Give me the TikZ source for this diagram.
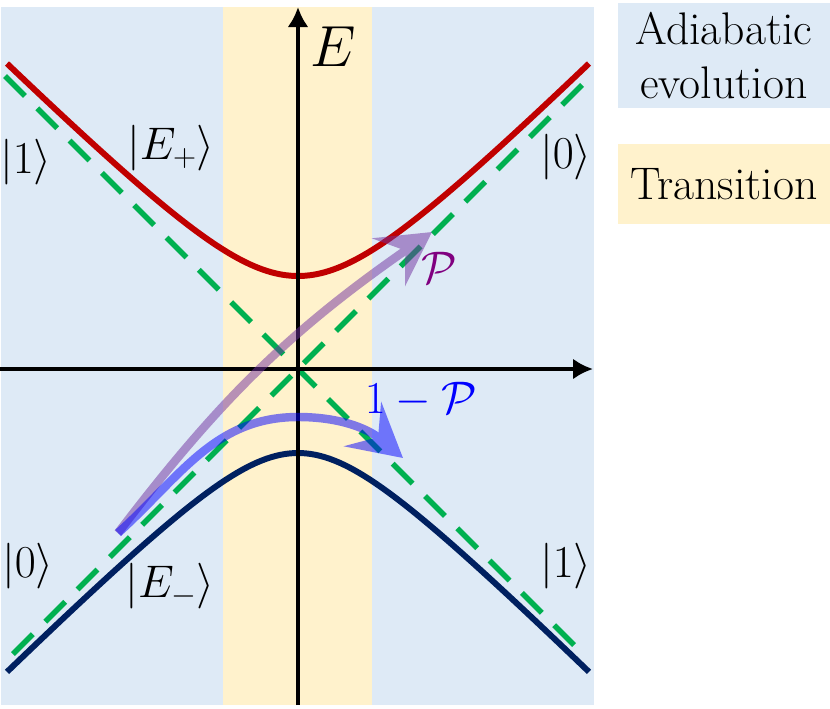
\documentclass[tikz,border=0pt]{standalone}
\usepackage{fix-cm}
\usepackage{amsmath,amssymb}
\usepackage{xcolor}
\usetikzlibrary{calc,arrows.meta}
\definecolor{adiab}{HTML}{DEEAF6}
\definecolor{trans}{HTML}{FFF2CC}
\definecolor{upper}{HTML}{C00000}
\definecolor{lower}{HTML}{002060}
\definecolor{diab}{HTML}{00B050}
\definecolor{jump}{HTML}{7030A0}
\definecolor{plabel}{HTML}{800080}
\newcommand{\Ket}[1]{$|#1\rangle$}
\newcommand{\Level}[3]{%
  \draw[level,color=#1] plot (\x,{#2*sqrt(\x*\x+#3*#3)});
}

\begin{document}
\begin{tikzpicture}[
  every node/.style={font=\fontsize{26}{31}\selectfont},
  level/.style={line width=3.4pt,domain=-5.82:5.82,samples=120},
  diabat/.style={color=diab,line width=3.2pt,dash pattern=on 16pt off 10pt},
  axis/.style={line width=2.8pt,-{Latex[length=0.4cm,width=0.42cm]}},
  flow/.style={line width=4.8pt,-{Stealth[length=1.05cm,width=1.15cm,inset=0.4cm]}},
  legend/.style={fill=#1,minimum width=4.24cm,align=center,inner sep=0pt}]
  \useasboundingbox (-5.96,-6.78) rectangle (10.64,7.38);
  \fill[adiab] (-5.94,-6.72) rectangle (5.92,7.24);
  \fill[trans] (-1.5,-6.72) rectangle (1.48,7.24);
  \coordinate (O) at (0,0);
  \coordinate (start) at (-3.6,-3.28);
  \coordinate (top) at (0,-0.96);
  \coordinate (tipP) at (2.68,2.74);
  \coordinate (tipB) at (2.1,-1.78);
  \draw[diabat] (-5.7,-5.7) -- (O) -- (5.84,5.84);
  \draw[diabat] (-5.86,5.86) -- (O) -- (5.64,-5.64);
  \Level{upper}{1}{1.86}
  \Level{lower}{-1}{1.68}
  \draw[axis] (-5.96,0) -- (5.9,0);
  \draw[axis] (0,-6.72) -- (0,7.24);
  \node (E) at (0.7,6.44) {\fontsize{33}{38}\selectfont$E$};
  \begin{scope}[transparency group,opacity=0.5]
    \draw[flow,color=jump] (start) to[bend left=9] (tipP);
  \end{scope}
  \begin{scope}[transparency group,opacity=0.5]
    \draw[flow,color=blue] (start) to[out=42,in=180] (top) to[out=0,in=140] (tipB);
  \end{scope}
  \node[color=plabel] (P) at (2.82,2.02) {$\mathcal{P}$};
  \node[color=blue] (Q) at (2.46,-0.62) {$1-\mathcal{P}$};
  \node (oneL) at (-5.44,4.14) {\Ket{1}};
  \node (Eplus) at (-2.54,4.42) {\Ket{E_+}};
  \node (zeroR) at (5.36,4.24) {\Ket{0}};
  \node (zeroL) at (-5.4,-3.94) {\Ket{0}};
  \node (Eminus) at (-2.56,-4.34) {\Ket{E_-}};
  \node (oneR) at (5.36,-3.94) {\Ket{1}};
  \node[legend=adiab,minimum height=2.1cm] (adiabatic) at (8.52,6.27) {Adiabatic\\evolution};
  \node[legend=trans,minimum height=1.6cm] (transition) at (8.52,3.7) {Transition};
\end{tikzpicture}
\end{document}
